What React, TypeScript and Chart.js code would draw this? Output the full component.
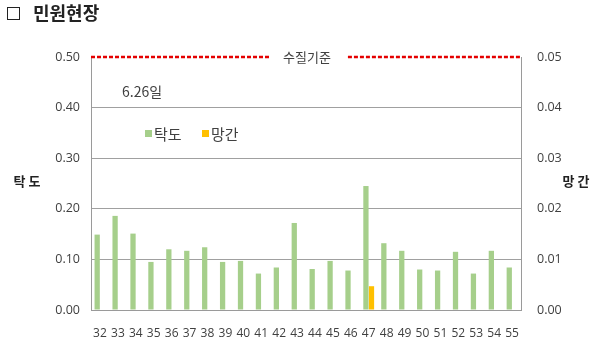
import React, { useEffect, useRef } from "react";
import { Chart, registerables } from "chart.js";

Chart.register(...registerables);

// Sampling points 32–55, turbidity (left axis) and manganese (right axis)
const sites = ["32", "33", "34", "35", "36", "37", "38", "39", "40", "41", "42", "43", "44", "45", "46", "47", "48", "49", "50", "51", "52", "53", "54", "55"];
const turbidity = [0.149, 0.186, 0.151, 0.095, 0.12, 0.117, 0.124, 0.095, 0.097, 0.072, 0.084, 0.172, 0.081, 0.097, 0.078, 0.245, 0.132, 0.117, 0.08, 0.078, 0.115, 0.072, 0.117, 0.084];
const manganese = [null, null, null, null, null, null, null, null, null, null, null, null, null, null, null, 0.0047, null, null, null, null, null, null, null, null];
const standardLimit = 0.5;
const leftTicks = [0, 0.1, 0.2, 0.3, 0.4, 0.5];

const GREEN = "#A6CF8B";
const ORANGE = "#FFC000";
const TEXT = "#404040";
const AXIS = "#9a9a9a";
const FONT = "'Open Sans', 'Noto Sans CJK KR', sans-serif";
const KFONT = "'Noto Sans CJK KR', sans-serif";

const overlay = {
  id: "overlay",
  afterDraw(chart: any) {
    const { ctx, chartArea, scales } = chart;
    const y = scales.y.getPixelForValue(standardLimit);
    ctx.save();

    // water-quality standard line with a gap for its label
    const labelX = 307;
    ctx.font = `13px ${KFONT}`;
    const w = ctx.measureText("수질기준").width;
    const gapL = labelX - w / 2 - 14;
    const gapR = labelX + w / 2 + 17;
    ctx.strokeStyle = "#E40000";
    ctx.lineWidth = 2.5;
    ctx.setLineDash([4, 2]);
    ctx.beginPath();
    ctx.moveTo(chartArea.left, y);
    ctx.lineTo(gapL, y);
    ctx.moveTo(gapR, y);
    ctx.lineTo(chartArea.right, y);
    ctx.stroke();
    ctx.setLineDash([]);
    ctx.fillStyle = TEXT;
    ctx.textAlign = "center";
    ctx.textBaseline = "middle";
    ctx.fillText("수질기준", labelX, y);

    // date note
    ctx.textAlign = "left";
    ctx.font = `14px ${KFONT}`;
    ctx.fillText("6.26일", 122, 92);

    // legend
    ctx.font = `15px ${KFONT}`;
    const items = [
      { label: "탁도", color: GREEN, x: 145 },
      { label: "망간", color: ORANGE, x: 202 },
    ];
    for (const it of items) {
      ctx.fillStyle = it.color;
      ctx.fillRect(it.x, 130, 7, 7);
      ctx.fillStyle = TEXT;
      ctx.fillText(it.label, it.x + 9, 134);
    }

    // axis titles
    ctx.font = `bold 13px ${KFONT}`;
    ctx.fillStyle = "#222";
    ctx.textAlign = "center";
    ctx.fillText("탁 도", 27, 181);
    ctx.fillText("망 간", 576, 181);

    // page heading
    ctx.strokeStyle = "#222";
    ctx.lineWidth = 1;
    ctx.strokeRect(7.5, 7.5, 12, 12);
    ctx.textAlign = "left";
    ctx.font = `bold 18px ${KFONT}`;
    ctx.fillStyle = "#222";
    ctx.fillText("민원현장", 33, 13);

    ctx.restore();
  },
};

export default function App() {
  const ref = useRef<HTMLCanvasElement>(null);

  useEffect(() => {
    if (!ref.current) return;
    const chart = new Chart(ref.current, {
      type: "bar",
      data: {
        labels: sites,
        datasets: [
          { label: "탁도", data: turbidity, backgroundColor: GREEN, yAxisID: "y", categoryPercentage: 0.62, barPercentage: 0.95 },
          { label: "망간", data: manganese as any, backgroundColor: ORANGE, yAxisID: "y2", categoryPercentage: 0.62, barPercentage: 0.95 },
        ],
      },
      options: {
        animation: false,
        responsive: false,
        maintainAspectRatio: false,
        layout: { padding: { top: 57, left: 0, right: 0, bottom: 0 } },
        plugins: { legend: { display: false }, tooltip: { enabled: false } },
        scales: {
          x: {
            grid: { display: false },
            border: { display: true, color: AXIS },
            ticks: { color: TEXT, font: { family: FONT, size: 12 }, padding: 8, autoSkip: false, maxRotation: 0 },
            afterFit: (s: any) => { s.height = 29; },
          },
          y: {
            position: "left",
            min: 0,
            max: 0.5,
            afterBuildTicks: (s: any) => { s.ticks = leftTicks.map((v) => ({ value: v })); },
            grid: {
              color: (c: any) => (c.tick && (c.tick.value === 0 || c.tick.value === 0.5) ? "rgba(0,0,0,0)" : "#a0a0a0"),
              drawTicks: false,
            },
            border: { display: true, color: AXIS },
            ticks: { color: TEXT, font: { family: FONT, size: 12.5 }, padding: 11, callback: (v: any) => Number(v).toFixed(2) },
            afterFit: (s: any) => { s.width = 91; },
          },
          y2: {
            position: "right",
            min: 0,
            max: 0.05,
            ticks: { stepSize: 0.01, color: TEXT, font: { family: FONT, size: 12.5 }, padding: 16, callback: (v: any) => Number(v).toFixed(2) },
            grid: { drawOnChartArea: false, drawTicks: false },
            border: { display: true, color: AXIS },
            afterFit: (s: any) => { s.width = 79; },
          },
        },
      },
      plugins: [overlay],
    });
    return () => chart.destroy();
  }, []);

  return (
    <div style={{ position: "absolute", left: 0, top: 0, width: 600, height: 339, background: "#fff" }}>
      <canvas ref={ref} width={600} height={339} />
    </div>
  );
}
